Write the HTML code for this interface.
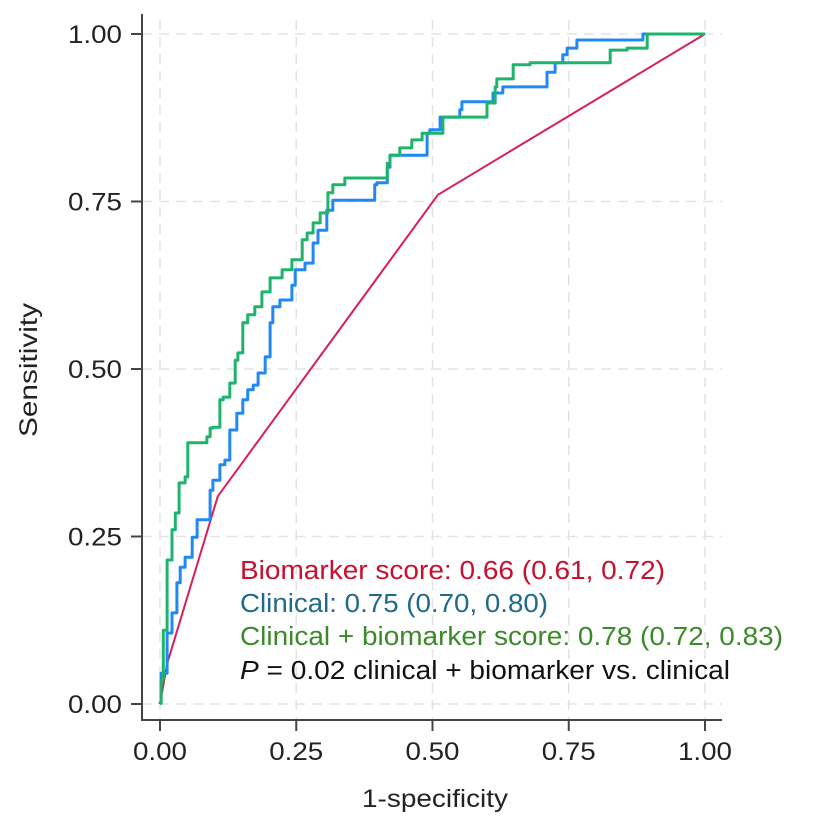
<!DOCTYPE html>
<html><head><meta charset="utf-8"><style>
body{margin:0;background:#fff;}
svg{display:block;font-family:"Liberation Sans",sans-serif;}
</style></head><body>
<svg id="chart" width="814" height="829">
<g id="grid"></g>
<g id="axes"></g>
<g id="series"></g>
<text x="37" y="370" transform="rotate(-90 37 370)" text-anchor="middle" font-size="25" textLength="134" lengthAdjust="spacingAndGlyphs" fill="#222">Sensitivity</text>
<text x="435" y="807" text-anchor="middle" font-size="25" textLength="146" lengthAdjust="spacingAndGlyphs" fill="#222">1-specificity</text>
<g font-size="25.5">
<text x="240" y="579" fill="#c8102e" textLength="425" lengthAdjust="spacingAndGlyphs">Biomarker score: 0.66 (0.61, 0.72)</text>
<text x="240" y="612" fill="#1f6a8a" textLength="308" lengthAdjust="spacingAndGlyphs">Clinical: 0.75 (0.70, 0.80)</text>
<text x="240" y="645" fill="#3b8a2a" textLength="543" lengthAdjust="spacingAndGlyphs">Clinical + biomarker score: 0.78 (0.72, 0.83)</text>
<text x="240" y="679" fill="#111" textLength="490" lengthAdjust="spacingAndGlyphs"><tspan font-style="italic">P</tspan> = 0.02 clinical + biomarker vs. clinical</text>
</g>
</svg>
<script>
const xTicks=[0,0.25,0.5,0.75,1];
const yTicks=[0,0.25,0.5,0.75,1];
const tickLabels=["0.00","0.25","0.50","0.75","1.00"];
const redFpr=[0,0.013,0.106,0.51,1];
const redTpr=[0,0.06,0.31,0.76,1];
const blueFpr=[0,0.002,0.013,0.022,0.031,0.037,0.046,0.059,0.068,0.079,0.092,0.097,0.110,0.119,0.128,0.141,0.152,0.161,0.171,0.180,0.193,0.202,0.207,0.220,0.242,0.248,0.266,0.281,0.290,0.306,0.317,0.334,0.394,0.398,0.417,0.422,0.431,0.490,0.495,0.514,0.517,0.550,0.554,0.582,0.611,0.629,0.661,0.710,0.725,0.739,0.747,0.765,0.798,0.886,0.890,1];
const blueTpr=[0,0.001,0.046,0.106,0.136,0.181,0.204,0.219,0.249,0.275,0.275,0.319,0.334,0.357,0.364,0.409,0.434,0.454,0.469,0.476,0.494,0.518,0.569,0.593,0.603,0.625,0.648,0.658,0.688,0.707,0.737,0.752,0.752,0.775,0.778,0.801,0.819,0.819,0.852,0.857,0.876,0.876,0.887,0.899,0.899,0.912,0.921,0.921,0.943,0.957,0.969,0.979,0.991,0.991,1,1];
const greenFpr=[0,0.002,0.006,0.013,0.022,0.028,0.035,0.046,0.051,0.061,0.086,0.092,0.097,0.110,0.116,0.128,0.138,0.143,0.152,0.161,0.174,0.187,0.202,0.224,0.242,0.261,0.270,0.281,0.294,0.308,0.317,0.339,0.367,0.417,0.422,0.440,0.462,0.481,0.519,0.536,0.600,0.615,0.618,0.648,0.679,0.826,0.857,0.894,0.895,1];
const greenTpr=[0,0.001,0.036,0.110,0.215,0.260,0.285,0.330,0.339,0.390,0.390,0.399,0.412,0.413,0.454,0.458,0.479,0.513,0.524,0.569,0.581,0.593,0.615,0.636,0.648,0.663,0.693,0.703,0.718,0.733,0.763,0.775,0.785,0.785,0.807,0.819,0.830,0.842,0.852,0.876,0.876,0.897,0.921,0.933,0.954,0.957,0.976,0.979,1,1];

const NS="http://www.w3.org/2000/svg";
const X=v=>160+v*545, Y=v=>704-v*670;
function mk(tag,attrs,parent){const e=document.createElementNS(NS,tag);for(const k in attrs)e.setAttribute(k,attrs[k]);parent.appendChild(e);return e;}
const grid=document.getElementById('grid'),axes=document.getElementById('axes'),series=document.getElementById('series');
xTicks.forEach((t,i)=>{
  const g=mk('line',{x1:X(t),x2:X(t),y1:20,y2:720,stroke:'#e3e3e3','stroke-width':1.5,'stroke-dasharray':'10 7'},grid);
  
  
  const tk=mk('line',{x1:X(t),x2:X(t),y1:720,y2:731,stroke:'#444','stroke-width':2},axes);
  
  
  const lb=mk('text',{x:X(t),y:760,'text-anchor':'middle','font-size':25,textLength:54,lengthAdjust:'spacingAndGlyphs',fill:'#222'},axes);
  lb.textContent=tickLabels[i];
  
  
});
yTicks.forEach((t,i)=>{
  const g=mk('line',{x1:142,x2:722,y1:Y(t),y2:Y(t),stroke:'#e3e3e3','stroke-width':1.5,'stroke-dasharray':'10 7'},grid);
  
  
  const tk=mk('line',{x1:131,x2:142,y1:Y(t),y2:Y(t),stroke:'#444','stroke-width':2},axes);
  
  
  const lb=mk('text',{x:122,y:Y(t)+9,'text-anchor':'end','font-size':25,textLength:54,lengthAdjust:'spacingAndGlyphs',fill:'#222'},axes);
  lb.textContent=tickLabels[i];
  
  
});
const ya=mk('line',{x1:142,x2:142,y1:14,y2:721,stroke:'#444','stroke-width':2},axes);


const xa=mk('line',{x1:141,x2:722,y1:720,y2:720,stroke:'#444','stroke-width':2},axes);


function curve(fx,ty,color,w,name,step){
  let d='M'+X(fx[0]).toFixed(1)+','+Y(ty[0]).toFixed(1);
  for(let i=1;i<fx.length;i++){
    if(step) d+=' L'+X(fx[i-1]).toFixed(1)+','+Y(ty[i]).toFixed(1);
    d+=' L'+X(fx[i]).toFixed(1)+','+Y(ty[i]).toFixed(1);
  }
  const p=mk('path',{d:d,fill:'none',stroke:color,'stroke-width':w,'stroke-linejoin':'round'},series);
  
  
}
curve(redFpr,redTpr,'#d81e5b',2,'biomarker-roc-curve',false);
curve(blueFpr,blueTpr,'#2188f5',3,'clinical-roc-curve',true);
curve(greenFpr,greenTpr,'#1eb46c',3,'combined-roc-curve',true);
</script>
</body></html>
